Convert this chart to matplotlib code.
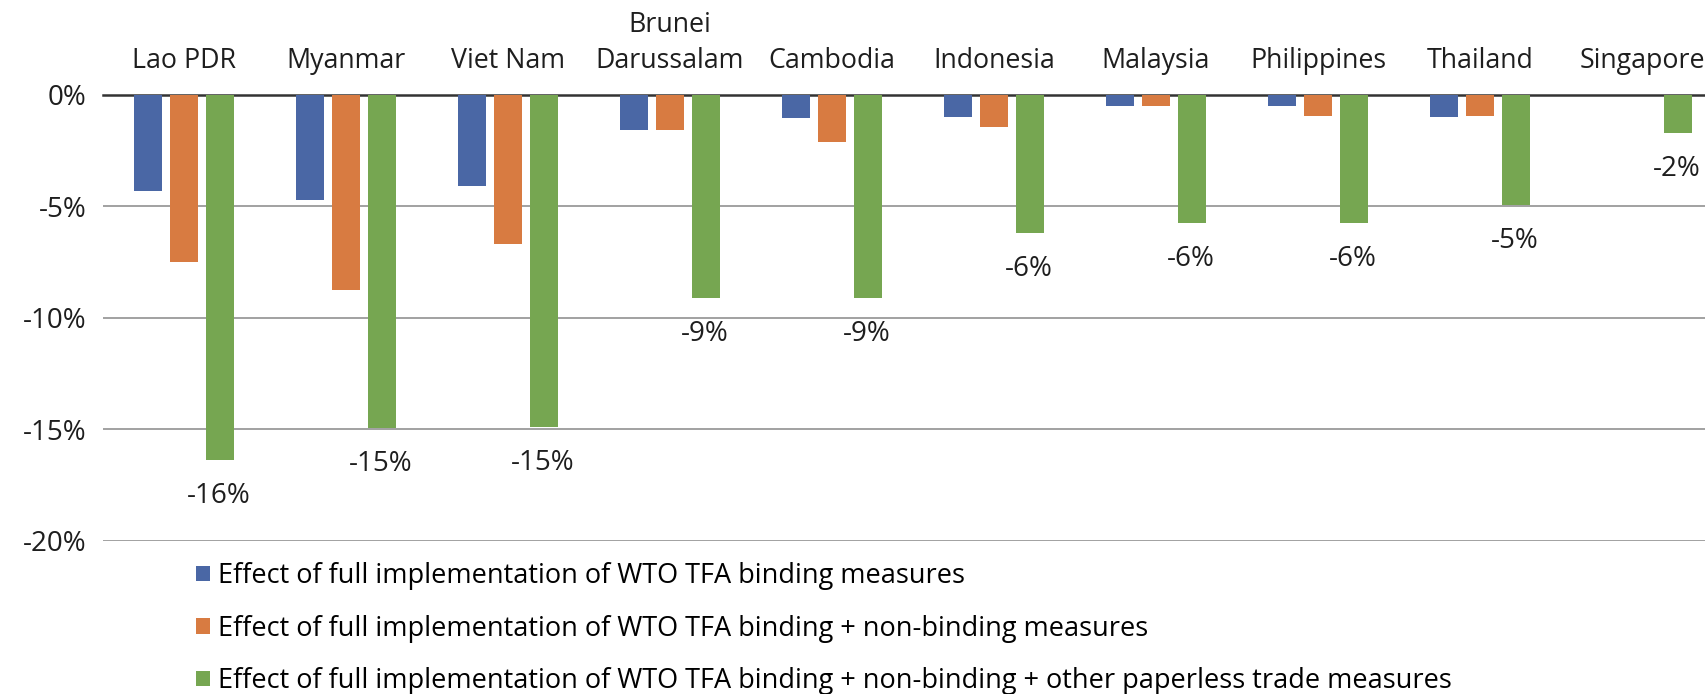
import matplotlib
matplotlib.use("Agg")
import matplotlib.pyplot as plt
import numpy as np

plt.rcParams['font.family'] = ['Open Sans', 'DejaVu Sans']

countries = ["Lao PDR", "Myanmar", "Viet Nam", "Brunei\nDarussalam", "Cambodia",
             "Indonesia", "Malaysia", "Philippines", "Thailand", "Singapore"]
binding = [-4.3, -4.7, -4.1, -1.6, -1.05, -1.0, -0.5, -0.5, -1.0, 0.0]
binding_nonbinding = [-7.5, -8.75, -6.7, -1.6, -2.1, -1.45, -0.5, -0.95, -0.95, 0.0]
full_paperless = [-16.4, -14.95, -14.9, -9.1, -9.1, -6.2, -5.75, -5.75, -4.95, -1.7]
series_labels = [
    "Effect of full implementation of WTO TFA binding measures",
    "Effect of full implementation of WTO TFA binding + non-binding measures",
    "Effect of full implementation of WTO TFA binding + non-binding + other paperless trade measures",
]
yticks = [0, -5, -10, -15, -20]

colors = ["#4a67a5", "#d87b41", "#76a651"]
txt = "#1e1e1e"

fig = plt.figure(figsize=(17.06, 6.94), dpi=100)
ax = fig.add_axes([0.0604, 0.221, 0.9396, 0.6425])

x = np.arange(len(countries))
w = 0.17
off = 0.222
series = [binding, binding_nonbinding, full_paperless]
handles = []
for i, (vals, c) in enumerate(zip(series, colors)):
    b = ax.bar(x + (i - 1) * off, vals, width=w, color=c, zorder=3)
    handles.append(b)

for xi, v in zip(x, full_paperless):
    ax.annotate(f"{round(v):d}%", xy=(xi + off, v), xytext=(-1, -26),
                textcoords="offset points", ha="center", va="center",
                fontsize=20, color=txt)

ax.set_xlim(-0.5, 9.395)
ax.set_ylim(-20, 0)
ax.set_yticks(yticks)
ax.set_yticklabels([f"{t}%" for t in yticks], fontsize=20, color=txt)
ax.tick_params(axis="y", length=0, pad=12)

ax.xaxis.tick_top()
ax.set_xticks(x)
ax.set_xticklabels(countries, fontsize=19.3, color=txt, linespacing=1.4)
ax.tick_params(axis="x", length=0, pad=14)

for s in ["left", "right", "bottom"]:
    ax.spines[s].set_visible(False)
ax.spines["top"].set_color("#333333")
ax.spines["top"].set_linewidth(1.8)
ax.yaxis.grid(True, color="#9a9a9a", linewidth=1.3, zorder=0)
ax.set_axisbelow(True)

fig.legend(handles, series_labels, loc="upper left", bbox_to_anchor=(0.115, 0.19),
           frameon=False, fontsize=19.5, handlelength=0.5, handleheight=0.5,
           handletextpad=0.3, labelspacing=0.9, borderaxespad=0, borderpad=0)

fig.savefig("out.png", dpi=100)
